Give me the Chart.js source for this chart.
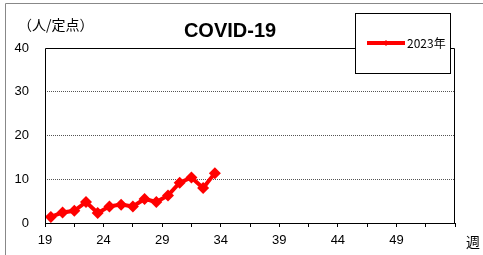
<!DOCTYPE html>
<html>
<head>
<meta charset="utf-8">
<script src="https://cdn.jsdelivr.net/npm/chart.js@4.4.0/dist/chart.umd.min.js"></script>
<style>
  html, body { margin: 0; padding: 0; background: #fff; }
  #wrap { position: relative; width: 483px; height: 255px; }
</style>
</head>
<body>
<div id="wrap"><canvas id="covidChart" width="483" height="255"></canvas></div>
<script>
// weeks and per-sentinel counts (2023)
var weeks = [19, 20, 21, 22, 23, 24, 25, 26, 27, 28, 29, 30, 31, 32, 33];
var values2023 = [1.4, 2.4, 2.8, 4.8, 2.3, 3.8, 4.2, 3.8, 5.5, 4.8, 6.3, 9.2, 10.4, 8.0, 11.4];
var xTickLabels = [19, 24, 29, 34, 39, 44, 49];
var yTicks = [0, 10, 20, 30, 40];
var seriesLabel = '2023年';
var titleText = 'COVID-19';
var unitText = '（人/定点）';
var xAxisText = '週';

var xMin = 19, xMax = 54;
var FONT = "'Liberation Sans', Arial, sans-serif";
var JP = "'Noto Sans CJK JP', sans-serif";

// each week sits in the middle of its slot
var points = weeks.map(function(w, i) {
    return { x: w + 0.5, y: values2023[i] };
});

var decor = {
    id: 'decor',
    beforeDraw: function(chart) {
        var c = chart.ctx;
        c.save();
        c.strokeStyle = '#888';
        c.lineWidth = 1;
        c.beginPath();
        c.moveTo(5.5, 255);
        c.lineTo(5.5, 3.5);
        c.lineTo(483, 3.5);
        c.stroke();
        c.restore();
    },
    afterDatasetsDraw: function(chart) {
        var c = chart.ctx;
        var a = chart.chartArea;
        c.save();
        // plot frame
        c.strokeStyle = '#000';
        c.lineWidth = 1;
        c.beginPath();
        c.moveTo(a.left + 0.5, a.bottom);
        c.lineTo(a.left + 0.5, a.top + 0.5);
        c.lineTo(a.right - 0.5, a.top + 0.5);
        c.lineTo(a.right - 0.5, a.bottom);
        c.stroke();

        // title
        c.fillStyle = '#000';
        c.font = 'bold 20px ' + FONT;
        c.textAlign = 'center';
        c.textBaseline = 'middle';
        c.fillText(titleText, 230, 31);

        // unit
        c.font = '14px ' + JP;
        c.textAlign = 'left';
        c.fillText(unitText, 18, 25);

        // x axis name
        c.fillText(xAxisText, 466, 242);

        // legend box
        c.fillStyle = '#fff';
        c.fillRect(355, 13, 96, 61);
        c.strokeRect(355.5, 13.5, 95, 60);
        c.strokeStyle = '#ff0000';
        c.lineWidth = 4;
        c.beginPath();
        c.moveTo(367, 43);
        c.lineTo(405, 43);
        c.stroke();
        c.fillStyle = '#ff0000';
        c.beginPath();
        c.moveTo(386, 40);
        c.lineTo(389, 43);
        c.lineTo(386, 46);
        c.lineTo(383, 43);
        c.closePath();
        c.fill();
        c.fillStyle = '#000';
        c.font = '12px ' + JP;
        c.textAlign = 'left';
        c.fillText(seriesLabel, 407, 43);
        c.restore();
    }
};

var ctx = document.getElementById('covidChart').getContext('2d');
new Chart(ctx, {
    type: 'line',
    data: {
        datasets: [{
            label: seriesLabel,
            data: points,
            borderColor: '#ff0000',
            backgroundColor: '#ff0000',
            borderWidth: 4,
            pointStyle: 'rectRot',
            pointRadius: 6,
            pointBorderWidth: 0,
            tension: 0
        }]
    },
    options: {
        responsive: false,
        animation: false,
        events: [],
        layout: { padding: { top: 48, right: 28, left: 0, bottom: 0 } },
        plugins: {
            legend: { display: false },
            title: { display: false },
            tooltip: { enabled: false }
        },
        scales: {
            x: {
                type: 'linear',
                min: xMin,
                max: xMax,
                afterBuildTicks: function(scale) {
                    var t = [];
                    for (var v = xMin; v <= xMax + 0.001; v += 2.5) t.push({ value: v });
                    scale.ticks = t;
                },
                afterFit: function(scale) { scale.height = 32; },
                border: { display: true, color: '#000', width: 1 },
                grid: {
                    drawOnChartArea: false,
                    drawTicks: true,
                    tickLength: 4,
                    color: '#000'
                },
                ticks: {
                    autoSkip: false,
                    maxRotation: 0,
                    padding: 6,
                    color: '#000',
                    font: { family: FONT, size: 13 },
                    callback: function(v) {
                        return xTickLabels.indexOf(v) >= 0 ? String(v) : '';
                    }
                }
            },
            y: {
                min: 0,
                max: 40,
                afterBuildTicks: function(scale) {
                    scale.ticks = yTicks.map(function(v) { return { value: v }; });
                },
                afterFit: function(scale) { scale.width = 45; },
                border: { display: false, dash: [1, 1] },
                grid: {
                    drawTicks: false,
                    color: function(c) {
                        var v = c.tick ? c.tick.value : 0;
                        return (v === 0 || v === 40) ? 'rgba(0,0,0,0)' : '#555';
                    },
                    lineWidth: 1
                },
                ticks: {
                    padding: 16,
                    color: '#000',
                    font: { family: FONT, size: 13 }
                }
            }
        }
    }
    ,
    plugins: [decor]
});
</script>
</body>
</html>
